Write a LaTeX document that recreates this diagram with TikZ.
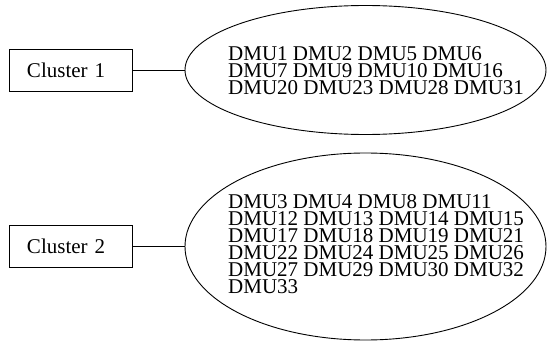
\documentclass[tikz,border=0pt]{standalone}
\usepackage{fontspec}
\setmainfont{Liberation Serif}
\usetikzlibrary{shapes.geometric}
\begin{document}
\begin{tikzpicture}[x=1pt,y=-1pt,
  clusterbox/.style={draw, line width=0.9pt, text width=87pt, align=left,
    inner xsep=18pt, inner ysep=0pt, minimum height=42pt,
    font=\fontsize{21}{22}\selectfont},
  groupell/.style={draw, ellipse, line width=0.9pt, inner sep=0pt},
  members/.style={align=left, anchor=base west, inner sep=0pt,
    font=\fontsize{21}{17}\selectfont},
  link/.style={line width=0.9pt}]
\useasboundingbox (0,0) rectangle (555,345);
% cluster 1 (node base = baseline of the last line)
\node[clusterbox] (c1) at (70.5,70) {Cluster 1};
\node[groupell, minimum width=361pt, minimum height=129pt] (e1) at (365.5,70) {};
\node[members] (m1) at (228,95) {DMU1 DMU2 DMU5 DMU6\\DMU7 DMU9 DMU10 DMU16\\DMU20 DMU23 DMU28 DMU31};
\draw[link] (c1.east) -- (e1.west);
% cluster 2
\node[clusterbox] (c2) at (70.5,246.5) {Cluster 2};
\node[groupell, minimum width=361pt, minimum height=187pt] (e2) at (365.5,246.5) {};
\node[members] (m2) at (228,293) {DMU3 DMU4 DMU8 DMU11\\DMU12 DMU13 DMU14 DMU15\\DMU17 DMU18 DMU19 DMU21\\DMU22 DMU24 DMU25 DMU26\\DMU27 DMU29 DMU30 DMU32\\DMU33};
\draw[link] (c2.east) -- (e2.west);
\end{tikzpicture}
\end{document}
